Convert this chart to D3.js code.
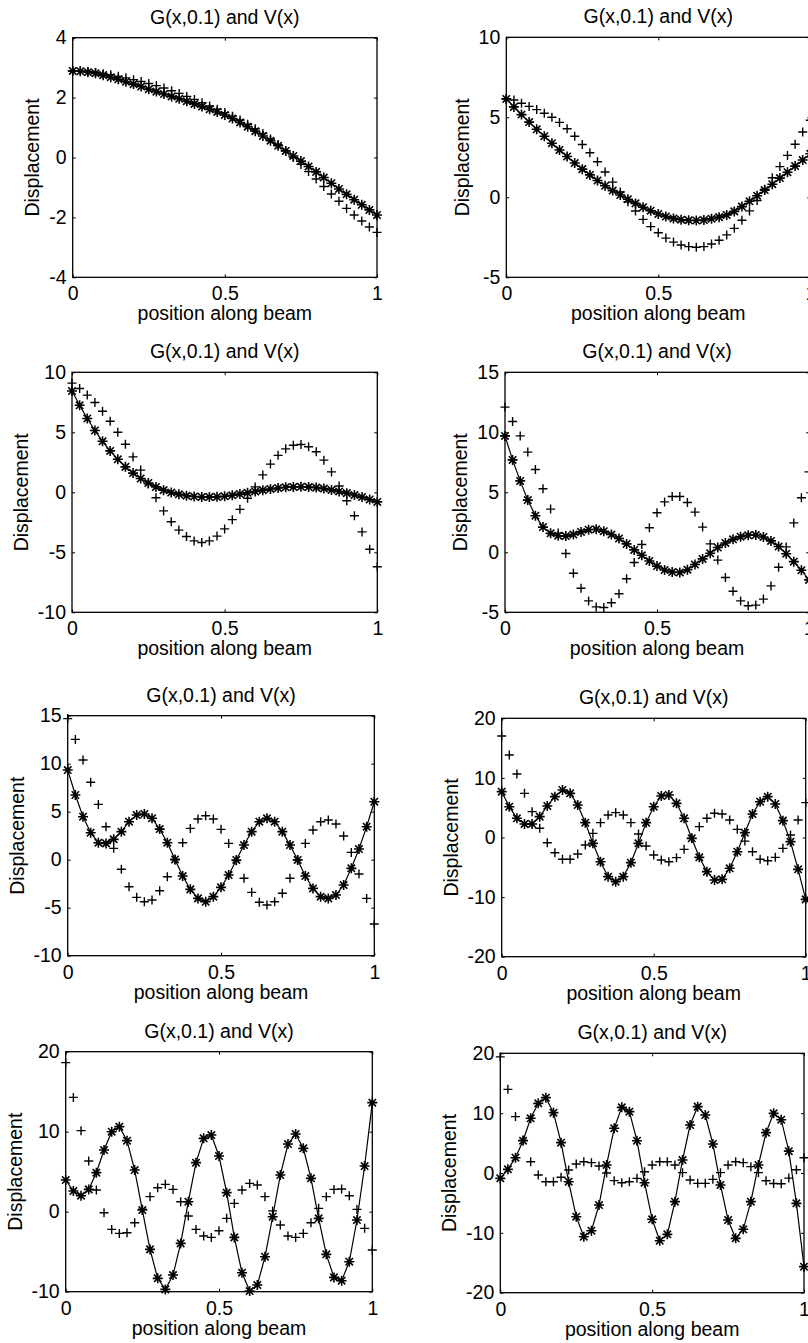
<!DOCTYPE html>
<html>
<head>
<meta charset="utf-8">
<script src="https://cdn.jsdelivr.net/npm/d3@7"></script>
<style>
  body { margin: 0; background: #fff; }
  svg { display: block; }
</style>
</head>
<body>
<svg id="fig" width="808" height="1343"></svg>
<script>
// sample positions along the beam
const xs = [0, 0.025, 0.05, 0.075, 0.1, 0.125, 0.15, 0.175, 0.2, 0.225,
            0.25, 0.275, 0.3, 0.325, 0.35, 0.375, 0.4, 0.425, 0.45, 0.475,
            0.5, 0.525, 0.55, 0.575, 0.6, 0.625, 0.65, 0.675, 0.7, 0.725,
            0.75, 0.775, 0.8, 0.825, 0.85, 0.875, 0.9, 0.925, 0.95, 0.975, 1];

// '*' series (drawn with a line) and '+' series, one pair per panel
const star1 = [2.89, 2.88, 2.85, 2.81, 2.75, 2.68, 2.61, 2.53, 2.45, 2.37, 2.28, 2.20, 2.12, 2.04, 1.96, 1.88, 1.79, 1.70, 1.61, 1.52, 1.42, 1.30, 1.17, 1.03, 0.88, 0.72, 0.56, 0.39, 0.22, 0.05, -0.12, -0.30, -0.48, -0.67, -0.86, -1.05, -1.23, -1.41, -1.58, -1.75, -1.92];
const plus1 = [2.89, 2.89, 2.87, 2.84, 2.80, 2.76, 2.71, 2.66, 2.60, 2.54, 2.47, 2.40, 2.32, 2.23, 2.14, 2.04, 1.94, 1.83, 1.72, 1.61, 1.50, 1.38, 1.25, 1.11, 0.96, 0.80, 0.62, 0.43, 0.22, 0.00, -0.23, -0.47, -0.72, -0.97, -1.22, -1.46, -1.70, -1.92, -2.12, -2.32, -2.50];

const star2 = [6.15, 5.65, 5.17, 4.70, 4.25, 3.82, 3.38, 2.96, 2.55, 2.14, 1.76, 1.40, 1.05, 0.72, 0.42, 0.14, -0.12, -0.38, -0.62, -0.84, -1.04, -1.20, -1.32, -1.40, -1.44, -1.45, -1.42, -1.34, -1.24, -1.10, -0.88, -0.58, -0.25, 0.10, 0.45, 0.82, 1.20, 1.57, 1.95, 2.33, 2.72];
const plus2 = [6.15, 6.08, 5.88, 5.68, 5.48, 5.25, 5.00, 4.68, 4.28, 3.82, 3.30, 2.78, 2.22, 1.58, 0.95, 0.33, -0.28, -0.86, -1.38, -1.83, -2.22, -2.55, -2.80, -2.98, -3.08, -3.12, -3.08, -2.92, -2.68, -2.35, -1.94, -1.43, -0.85, -0.20, 0.50, 1.22, 1.92, 2.62, 3.32, 4.08, 4.82];

const star3 = [8.44, 7.25, 6.15, 5.15, 4.25, 3.45, 2.75, 2.12, 1.60, 1.15, 0.78, 0.45, 0.18, -0.02, -0.17, -0.28, -0.35, -0.39, -0.40, -0.38, -0.33, -0.25, -0.15, -0.04, 0.07, 0.18, 0.28, 0.36, 0.42, 0.45, 0.46, 0.44, 0.39, 0.31, 0.20, 0.07, -0.07, -0.23, -0.40, -0.60, -0.80];
const plus3 = [9.10, 8.65, 8.10, 7.48, 6.75, 5.92, 5.00, 4.00, 2.95, 1.85, 0.70, -0.45, -1.55, -2.45, -3.15, -3.68, -4.05, -4.18, -4.05, -3.65, -3.05, -2.28, -1.42, -0.50, 0.45, 1.45, 2.35, 3.08, 3.62, 3.92, 3.98, 3.80, 3.38, 2.68, 1.70, 0.52, -0.70, -1.95, -3.30, -4.75, -6.20];

const star4 = [9.70, 7.70, 5.95, 4.35, 3.05, 2.10, 1.58, 1.38, 1.35, 1.48, 1.70, 1.88, 1.92, 1.76, 1.48, 1.15, 0.70, 0.20, -0.25, -0.72, -1.15, -1.48, -1.65, -1.68, -1.45, -1.02, -0.55, -0.08, 0.40, 0.78, 1.08, 1.30, 1.42, 1.44, 1.28, 0.95, 0.48, -0.12, -0.78, -1.50, -2.30];
const plus4 = [12.10, 10.90, 9.70, 8.35, 6.90, 5.30, 3.60, 1.60, -0.10, -1.75, -3.00, -4.05, -4.55, -4.60, -4.20, -3.45, -2.20, -0.85, 0.65, 2.05, 3.30, 4.20, 4.65, 4.65, 4.15, 3.35, 2.10, 0.70, -0.65, -2.10, -3.25, -4.05, -4.45, -4.40, -3.90, -2.80, -1.25, 0.45, 2.45, 4.55, 6.70];

const star5 = [9.34, 6.74, 4.48, 2.81, 1.77, 1.70, 2.12, 2.92, 3.96, 4.65, 4.76, 4.31, 3.19, 1.77, 0.03, -1.70, -3.09, -4.03, -4.38, -3.85, -2.88, -1.60, -0.03, 1.53, 2.92, 3.96, 4.31, 3.96, 2.92, 1.53, -0.03, -1.70, -2.99, -3.85, -4.03, -3.68, -2.64, -0.90, 1.11, 3.44, 6.04];
const plus5 = [14.70, 12.53, 10.38, 8.06, 5.76, 3.44, 1.18, -1.00, -2.81, -3.92, -4.38, -4.20, -3.23, -1.77, 0.00, 1.77, 3.26, 4.24, 4.58, 4.24, 3.16, 1.70, -0.10, -1.94, -3.40, -4.44, -4.72, -4.38, -3.50, -1.94, 0.00, 1.70, 3.09, 3.96, 4.13, 3.72, 2.47, 0.76, -1.49, -4.03, -6.70];

const star6 = [7.69, 5.17, 3.22, 2.27, 2.27, 3.50, 5.29, 6.85, 7.97, 7.41, 5.45, 2.49, -0.98, -4.06, -6.57, -7.41, -6.57, -4.22, -0.98, 2.49, 5.17, 6.96, 7.13, 5.73, 3.22, -0.14, -3.33, -5.73, -7.13, -7.02, -5.17, -2.38, 0.81, 3.94, 6.01, 6.85, 5.62, 2.83, -0.70, -5.34, -10.38];
const plus6 = [17.03, 13.85, 10.66, 7.41, 4.34, 1.54, -0.87, -2.55, -3.66, -3.66, -2.77, -1.26, 0.70, 2.49, 3.78, 4.17, 3.78, 2.49, 0.59, -1.43, -2.94, -3.78, -4.06, -3.38, -1.99, -0.14, 1.82, 3.22, 4.06, 3.94, 2.94, 1.37, -0.60, -2.38, -3.66, -3.89, -3.33, -1.82, 0.42, 2.94, 5.85];

const star7 = [3.96, 2.58, 2.00, 2.79, 4.88, 7.71, 10.00, 10.63, 8.88, 5.21, 0.21, -4.71, -8.33, -9.71, -7.92, -3.96, 1.25, 6.13, 9.17, 9.58, 6.96, 2.38, -3.21, -7.63, -9.92, -9.17, -5.63, -0.63, 4.58, 8.46, 9.71, 7.92, 4.17, -0.83, -5.33, -8.21, -8.63, -6.25, -1.04, 5.71, 13.63];
const plus7 = [18.63, 14.29, 10.13, 6.33, 2.71, -0.13, -2.21, -2.71, -2.63, -1.38, 0.30, 1.88, 3.00, 3.42, 2.79, 1.25, -0.54, -2.21, -3.04, -3.21, -2.38, -0.83, 1.04, 2.71, 3.54, 3.33, 1.88, 0.10, -1.67, -3.04, -3.21, -2.71, -1.38, 0.42, 1.88, 2.79, 2.83, 2.00, 0.29, -2.08, -4.79];

const star8 = [-0.89, 0.61, 2.56, 5.40, 9.14, 11.64, 12.59, 10.08, 5.07, -1.45, -7.30, -10.64, -9.64, -5.35, 1.34, 7.47, 10.97, 10.25, 5.40, -1.62, -7.74, -11.31, -10.25, -4.79, 2.17, 8.02, 11.09, 9.69, 4.85, -2.00, -7.86, -10.92, -9.41, -4.79, 1.34, 6.74, 9.97, 8.90, 3.65, -5.07, -15.65];
const plus8 = [19.40, 13.98, 9.42, 5.50, 1.89, -0.33, -1.45, -1.45, -0.72, 0.50, 1.50, 1.89, 1.73, 1.17, 0.00, -1.28, -1.62, -1.45, -0.89, 0.22, 1.34, 1.89, 1.89, 1.34, 0.06, -1.17, -1.73, -1.73, -1.06, 0.06, 1.34, 1.89, 1.73, 1.06, 0.06, -1.30, -1.75, -1.80, -0.85, 0.55, 2.56];

// axis limits and tick labels
const yDomains = [[-4, 4], [-5, 10], [-10, 10], [-5, 15], [-10, 15], [-20, 20], [-10, 20], [-20, 20]];
const yTickVals = [[-4, -2, 0, 2, 4], [-5, 0, 5, 10], [-10, -5, 0, 5, 10], [-5, 0, 5, 10, 15],
                   [-10, -5, 0, 5, 10, 15], [-20, -10, 0, 10, 20], [-10, 0, 10, 20], [-20, -10, 0, 10, 20]];
const xTickVals = [0, 0.5, 1];

const titleText = "G(x,0.1) and V(x)";
const xLabelText = "position along beam";
const yLabelText = "Displacement";

// axes boxes on the page: [left, top, right, bottom] (scanned page, slightly skewed)
const boxes = [
  [72.7, 37.7, 377, 277.3], [506.3, 37.3, 810.3, 277.3],
  [72, 372.3, 377.3, 612.3], [505, 372.3, 809, 612.3],
  [67.7, 715.7, 374.3, 955.7], [501.7, 718.3, 805.7, 956.7],
  [65.7, 1051.7, 372.3, 1291.7], [500.3, 1053.3, 804, 1292.7]
];

const stars = [star1, star2, star3, star4, star5, star6, star7, star8];
const pluses = [plus1, plus2, plus3, plus4, plus5, plus6, plus7, plus8];

const font = "'Liberation Sans', Arial, Helvetica, sans-serif";
const fontSize = 19.5;
const tickLen = 3;

const plusPath = "M-4.5,0H4.5M0,-4.5V4.5";
const starPath = "M-5,0H5M0,-5V5M-3.7,-3.7L3.7,3.7M-3.7,3.7L3.7,-3.7";

const svg = d3.select("#fig");
const fmt = d => String(d);

boxes.forEach((box, k) => {
  const [L, T, R, B] = box;
  const x = d3.scaleLinear([0, 1], [L, R]);
  const y = d3.scaleLinear(yDomains[k], [B, T]);
  const g = svg.append("g");

  // ticks point inwards on all four sides, like MATLAB's boxed axes
  const styleAxis = a => a.attr("font-size", fontSize).attr("font-family", font)
    .call(s => s.select(".domain").remove())
    .call(s => s.selectAll("text").attr("fill", "#000"))
    .call(s => s.selectAll("line").attr("stroke", "#000"));

  g.append("g").attr("transform", `translate(0,${B})`)
    .call(d3.axisBottom(x).tickValues(xTickVals).tickSize(-tickLen).tickPadding(9).tickFormat(fmt))
    .call(styleAxis);
  g.append("g").attr("transform", `translate(0,${T})`)
    .call(d3.axisTop(x).tickValues(xTickVals).tickSize(-tickLen).tickFormat(""))
    .call(styleAxis);
  const left = g.append("g").attr("transform", `translate(${L},0)`)
    .call(d3.axisLeft(y).tickValues(yTickVals[k]).tickSize(-tickLen).tickPadding(6).tickFormat(fmt))
    .call(styleAxis);
  g.append("g").attr("transform", `translate(${R},0)`)
    .call(d3.axisRight(y).tickValues(yTickVals[k]).tickSize(-tickLen).tickFormat(""))
    .call(styleAxis);

  g.append("rect")
    .attr("x", L).attr("y", T).attr("width", R - L).attr("height", B - T)
    .attr("fill", "none").attr("stroke", "#000").attr("stroke-width", 1.3);

  // line through the '*' series
  g.append("path")
    .datum(stars[k])
    .attr("fill", "none").attr("stroke", "#000").attr("stroke-width", 1.2)
    .attr("d", d3.line().x((d, i) => x(xs[i])).y(d => y(d)));

  g.append("g").selectAll("path")
    .data(stars[k])
    .join("path")
      .attr("transform", (d, i) => `translate(${x(xs[i])},${y(d)})`)
      .attr("d", starPath)
      .attr("stroke", "#000").attr("stroke-width", 1.6).attr("fill", "none");

  g.append("g").selectAll("path")
    .data(pluses[k])
    .join("path")
      .attr("transform", (d, i) => `translate(${x(xs[i])},${y(d)})`)
      .attr("d", plusPath)
      .attr("stroke", "#000").attr("stroke-width", 1.4).attr("fill", "none");

  // texts
  g.append("text")
    .attr("x", (L + R) / 2).attr("y", T - 14)
    .attr("text-anchor", "middle")
    .attr("font-family", font).attr("font-size", fontSize)
    .text(titleText);

  g.append("text")
    .attr("x", (L + R) / 2).attr("y", B + 43)
    .attr("text-anchor", "middle")
    .attr("font-family", font).attr("font-size", fontSize)
    .text(xLabelText);

  const tickLeft = d3.min(left.selectAll("text").nodes(), n => L + n.getBBox().x);
  g.append("text")
    .attr("transform", `translate(${tickLeft - 10},${(T + B) / 2}) rotate(-90)`)
    .attr("text-anchor", "middle")
    .attr("font-family", font).attr("font-size", fontSize)
    .text(yLabelText);
});
</script>
</body>
</html>
